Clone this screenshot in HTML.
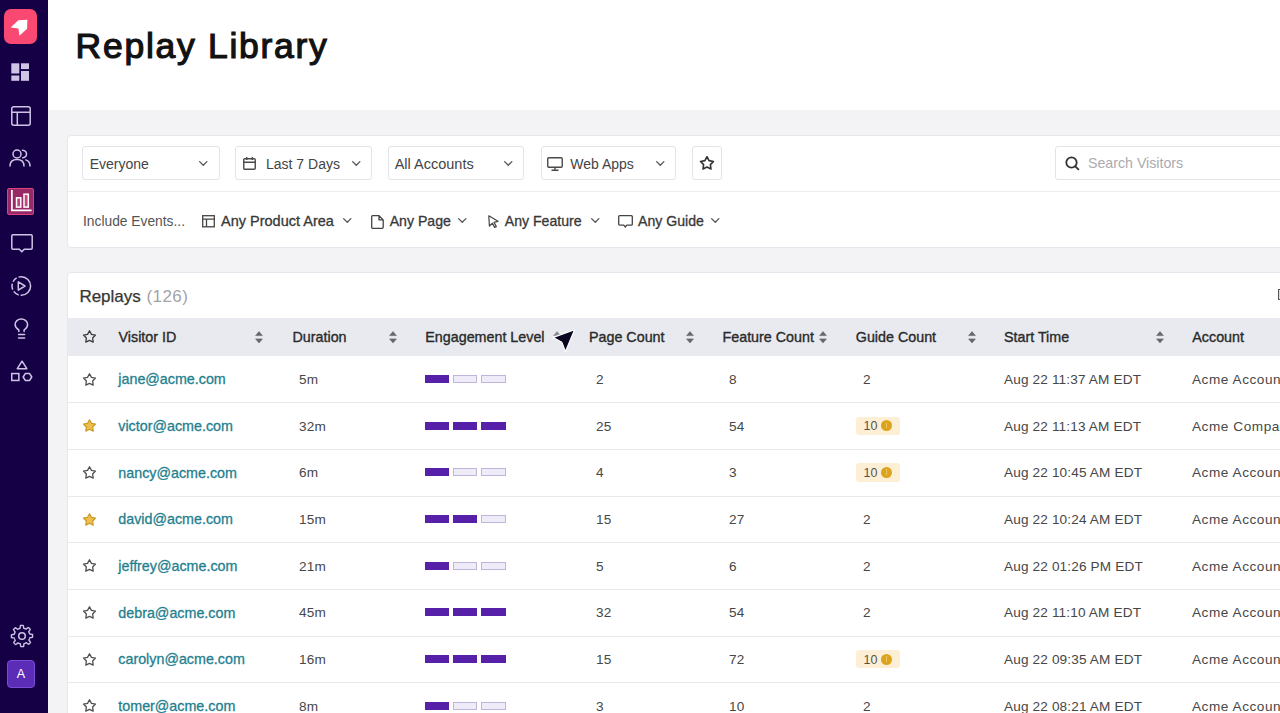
<!DOCTYPE html>
<html><head><meta charset="utf-8">
<style>
*{box-sizing:border-box;margin:0;padding:0}
html,body{width:1280px;height:713px;overflow:hidden}
body{position:relative;background:#F3F3F6;font-family:"Liberation Sans",sans-serif;color:#333}
.abs{position:absolute}
.t{position:absolute;white-space:nowrap;line-height:1}
svg{position:absolute;overflow:visible}
.card{position:absolute;background:#fff;border:1px solid #E6E7EC;border-radius:4px}
.dd{position:absolute;top:146px;height:34px;border:1px solid #E3E4EA;border-radius:3px;background:#fff}
.ddt{position:absolute;top:156.6px;font-size:14px;color:#444;white-space:nowrap;line-height:1}
.f2{position:absolute;top:213.8px;font-size:14.1px;font-weight:400;-webkit-text-stroke:0.3px #383838;color:#383838;white-space:nowrap;line-height:1}
.th{position:absolute;top:329.6px;font-size:14.3px;font-weight:400;-webkit-text-stroke:0.35px #2a2a2a;color:#2a2a2a;white-space:nowrap;line-height:1}
.sep{position:absolute;left:68px;width:1212px;height:1px;background:#E8E9ED}
.c{position:absolute;font-size:13.6px;color:#474747;letter-spacing:0.15px;white-space:nowrap;line-height:1}
.lk{position:absolute;color:#1F7F8F;-webkit-text-stroke:0.3px #1F7F8F;font-size:14.3px;white-space:nowrap;line-height:1}
.bar{position:absolute;width:24.5px;height:8px;background:#5621A8}
.bar.e{background:#EFEBF8;border:1px solid #BFB4DA}
.badge{position:absolute;left:856px;width:43.5px;height:18.3px;background:#FDEFD6;border-radius:3px}
.bt{position:absolute;font-size:12.5px;color:#5a5245;white-space:nowrap;line-height:1}
.dot{position:absolute;width:11px;height:11px;border-radius:50%;background:#DCA41C}
</style></head>
<body>

<div class="abs" style="left:0;top:0;width:47.7px;height:713px;background:#150046"></div>
<div class="abs" style="left:4px;top:9px;width:33px;height:34.5px;border-radius:7px;background:#F94872"></div>
<svg style="left:4px;top:9px" width="34" height="34" viewBox="0 0 34 34"><path d="M6.6 18.4 L14.3 11.2 L23.4 10.8 L23.1 19.7 L15.5 26.7 L14.4 19.4 Z" fill="#fff"/></svg>
<svg style="left:11px;top:63px" width="18" height="18" viewBox="0 0 18 18"><rect x="0.3" y="0.3" width="8" height="10.2" fill="#CDC4E6"/><rect x="0.3" y="12.5" width="8" height="5.3" fill="#CDC4E6"/><rect x="10" y="0.3" width="8" height="5.8" fill="#CDC4E6"/><rect x="10" y="8" width="8" height="9.8" fill="#CDC4E6"/></svg>
<svg style="left:11px;top:106px" width="20" height="20" viewBox="0 0 20 20"><rect x="0.8" y="0.8" width="18.4" height="18.4" rx="2" fill="none" stroke="#CDC4E6" stroke-width="1.5"/><path d="M0.8 6.3 H19.2 M6.3 6.3 V19.2" stroke="#CDC4E6" stroke-width="1.5"/></svg>
<svg style="left:9px;top:149px" width="22" height="18" viewBox="0 0 22 18"><circle cx="8" cy="5" r="4" fill="none" stroke="#CDC4E6" stroke-width="1.5"/><path d="M1 17 C1 12.5 4 10.5 8 10.5 C12 10.5 15 12.5 15 17" fill="none" stroke="#CDC4E6" stroke-width="1.5" stroke-linecap="round"/><path d="M13.5 1.3 C16 1.6 17.5 3.2 17.5 5 C17.5 6.9 16 8.4 13.8 8.8" fill="none" stroke="#CDC4E6" stroke-width="1.5" stroke-linecap="round"/><path d="M16.8 10.9 C19.5 11.7 21 13.6 21 17" fill="none" stroke="#CDC4E6" stroke-width="1.5" stroke-linecap="round"/></svg>
<div class="abs" style="left:7px;top:188px;width:26.8px;height:26.5px;border:1.9px solid #E2407B;border-radius:2px;background:#962966"></div>
<svg style="left:7px;top:188px" width="27" height="27" viewBox="0 0 27 27"><path d="M4.9 2 V22.3 H24.6" fill="none" stroke="#fff" stroke-width="1.7"/><rect x="9.5" y="9.8" width="4.3" height="9.3" fill="#C0487E" stroke="#fff" stroke-width="1.5"/><rect x="17" y="6.2" width="4.3" height="12.9" fill="#C0487E" stroke="#fff" stroke-width="1.5"/></svg>
<svg style="left:10.5px;top:234px" width="22" height="20" viewBox="0 0 22 20"><path d="M2 0.8 H20 A1.2 1.2 0 0 1 21.2 2 V14 A1.2 1.2 0 0 1 20 15.2 H13.2 L10.8 17.8 L8.4 15.2 H2 A1.2 1.2 0 0 1 0.8 14 V2 A1.2 1.2 0 0 1 2 0.8 Z" fill="none" stroke="#CDC4E6" stroke-width="1.5" stroke-linejoin="round"/></svg>
<svg style="left:10px;top:275px" width="22" height="22" viewBox="0 0 22 22"><circle cx="11.3" cy="11" r="9.3" fill="none" stroke="#CDC4E6" stroke-width="1.5" stroke-dasharray="15.2 2 6.1 2 6.1 2 5.3 2 17.65"/><path d="M8.3 6.8 L15 11 L8.3 15.2 Z" fill="none" stroke="#CDC4E6" stroke-width="1.5" stroke-linejoin="round"/></svg>
<svg style="left:13.5px;top:317.5px" width="15" height="22" viewBox="0 0 15 22"><path d="M4.8 13.6 V12 C2.6 10.6 1.1 8.9 1.1 6.6 C1.1 3.3 3.9 1 7.3 1 C10.7 1 13.6 3.3 13.6 6.6 C13.6 8.9 12.2 10.6 10.1 12 V13.6" fill="none" stroke="#CDC4E6" stroke-width="1.5" stroke-linecap="round"/><path d="M4.6 16.6 H10.6 M4.6 20.1 H10.6" stroke="#CDC4E6" stroke-width="1.5" stroke-linecap="round"/></svg>
<svg style="left:10.5px;top:360px" width="22" height="22" viewBox="0 0 22 22"><path d="M11.05 1.2 L15.8 8.65 H6.3 Z" fill="none" stroke="#CDC4E6" stroke-width="1.5" stroke-linejoin="round"/><rect x="0.75" y="13.55" width="7.1" height="6.9" fill="none" stroke="#CDC4E6" stroke-width="1.5"/><path d="M12.15 17 L14.3 13.55 H18.6 L20.75 17 L18.6 20.45 H14.3 Z" fill="none" stroke="#CDC4E6" stroke-width="1.5" stroke-linejoin="round"/></svg>
<svg style="left:11px;top:625px" width="22" height="22" viewBox="0 0 22 22"><path d="M21.48 9.42 L21.54 9.83 L21.57 10.24 L21.59 10.66 L21.60 11.08 L21.59 11.49 L21.56 11.91 L21.29 12.29 L20.13 12.51 L18.96 12.64 L18.67 12.90 L18.59 13.20 L18.50 13.49 L18.39 13.79 L18.28 14.07 L18.15 14.36 L18.01 14.64 L17.87 14.91 L18.09 15.41 L18.84 16.32 L19.53 17.29 L19.28 17.62 L19.01 17.94 L18.73 18.25 L18.44 18.55 L18.14 18.83 L17.83 19.11 L17.37 19.19 L16.38 18.52 L15.47 17.79 L15.08 17.76 L14.81 17.92 L14.54 18.06 L14.26 18.20 L13.97 18.32 L13.68 18.43 L13.39 18.53 L13.09 18.62 L12.89 19.13 L12.78 20.31 L12.58 21.48 L12.17 21.54 L11.76 21.57 L11.34 21.59 L10.92 21.60 L10.51 21.59 L10.09 21.56 L9.71 21.29 L9.49 20.13 L9.36 18.96 L9.10 18.67 L8.80 18.59 L8.51 18.50 L8.21 18.39 L7.93 18.28 L7.64 18.15 L7.36 18.01 L7.09 17.87 L6.59 18.09 L5.68 18.84 L4.71 19.53 L4.38 19.28 L4.06 19.01 L3.75 18.73 L3.45 18.44 L3.17 18.14 L2.89 17.83 L2.81 17.37 L3.48 16.38 L4.21 15.47 L4.24 15.08 L4.08 14.81 L3.94 14.54 L3.80 14.26 L3.68 13.97 L3.57 13.68 L3.47 13.39 L3.38 13.09 L2.87 12.89 L1.69 12.78 L0.52 12.58 L0.46 12.17 L0.43 11.76 L0.41 11.34 L0.40 10.92 L0.41 10.51 L0.44 10.09 L0.71 9.71 L1.87 9.49 L3.04 9.36 L3.33 9.10 L3.41 8.80 L3.50 8.51 L3.61 8.21 L3.72 7.93 L3.85 7.64 L3.99 7.36 L4.13 7.09 L3.91 6.59 L3.16 5.68 L2.47 4.71 L2.72 4.38 L2.99 4.06 L3.27 3.75 L3.56 3.45 L3.86 3.17 L4.17 2.89 L4.63 2.81 L5.62 3.48 L6.53 4.21 L6.92 4.24 L7.19 4.08 L7.46 3.94 L7.74 3.80 L8.03 3.68 L8.32 3.57 L8.61 3.47 L8.91 3.38 L9.11 2.87 L9.22 1.69 L9.42 0.52 L9.83 0.46 L10.24 0.43 L10.66 0.41 L11.08 0.40 L11.49 0.41 L11.91 0.44 L12.29 0.71 L12.51 1.87 L12.64 3.04 L12.90 3.33 L13.20 3.41 L13.49 3.50 L13.79 3.61 L14.07 3.72 L14.36 3.85 L14.64 3.99 L14.91 4.13 L15.41 3.91 L16.32 3.16 L17.29 2.47 L17.62 2.72 L17.94 2.99 L18.25 3.27 L18.55 3.56 L18.83 3.86 L19.11 4.17 L19.19 4.63 L18.52 5.62 L17.79 6.53 L17.76 6.92 L17.92 7.19 L18.06 7.46 L18.20 7.74 L18.32 8.03 L18.43 8.32 L18.53 8.61 L18.62 8.91 L19.13 9.11 L20.31 9.22 L21.48 9.42 Z" fill="none" stroke="#CDC4E6" stroke-width="1.4" stroke-linejoin="round"/><circle cx="11" cy="11" r="3.3" fill="none" stroke="#CDC4E6" stroke-width="1.5"/></svg>
<div class="abs" style="left:7px;top:660px;width:28px;height:28px;border-radius:4px;background:#5B2CB6;border:1px solid #7A4BD4"></div>
<div class="t" style="left:7px;top:668px;width:28px;text-align:center;font-size:12.5px;color:#fff">A</div>
<div class="abs" style="left:47.7px;top:0;width:1233px;height:110px;background:#fff"></div>
<div class="t" style="left:76px;top:28.6px;left:75.6px;font-size:35.5px;font-weight:400;-webkit-text-stroke:1.2px #121212;letter-spacing:1.72px;color:#121212">Replay Library</div>
<div class="card" style="left:67px;top:135px;width:1240px;height:113px"></div>
<div class="abs" style="left:68px;top:190.5px;width:1212px;height:1px;background:#ECEDF1"></div>
<div class="dd" style="left:82px;width:137.5px"></div>
<div class="ddt" style="left:89.7px">Everyone</div>
<svg style="left:198.9px;top:161.2px" width="8.5" height="5" viewBox="0 0 8.5 5"><path d="M0.6 0.6 L4.25 4.2 L7.9 0.6" fill="none" stroke="#555" stroke-width="1.3" stroke-linecap="round" stroke-linejoin="round"/></svg>
<div class="dd" style="left:235px;width:136.5px"></div>
<svg style="left:243px;top:157px" width="13" height="13" viewBox="0 0 13 13"><rect x="0.75" y="1.8" width="11.5" height="10.5" rx="1" fill="none" stroke="#4a4a4a" stroke-width="1.4"/><path d="M0.75 5.3 H12.25 M3.7 0 V3 M9.3 0 V3" stroke="#4a4a4a" stroke-width="1.4"/></svg>
<div class="ddt" style="left:266px">Last 7 Days</div>
<svg style="left:351.5px;top:161.2px" width="8.5" height="5" viewBox="0 0 8.5 5"><path d="M0.6 0.6 L4.25 4.2 L7.9 0.6" fill="none" stroke="#555" stroke-width="1.3" stroke-linecap="round" stroke-linejoin="round"/></svg>
<div class="dd" style="left:388px;width:135.5px"></div>
<div class="ddt" style="left:394.7px;font-size:14.5px">All Accounts</div>
<svg style="left:503.5px;top:161.2px" width="8.5" height="5" viewBox="0 0 8.5 5"><path d="M0.6 0.6 L4.25 4.2 L7.9 0.6" fill="none" stroke="#555" stroke-width="1.3" stroke-linecap="round" stroke-linejoin="round"/></svg>
<div class="dd" style="left:540.5px;width:135.5px"></div>
<svg style="left:547px;top:156.5px" width="16" height="14" viewBox="0 0 16 14"><rect x="0.75" y="0.75" width="14.5" height="9.5" rx="1.2" fill="none" stroke="#4a4a4a" stroke-width="1.4"/><path d="M8 10.3 V13 M4.5 13.2 H11.5" stroke="#4a4a4a" stroke-width="1.4"/></svg>
<div class="ddt" style="left:570.3px">Web Apps</div>
<svg style="left:656.2px;top:161.2px" width="8.5" height="5" viewBox="0 0 8.5 5"><path d="M0.6 0.6 L4.25 4.2 L7.9 0.6" fill="none" stroke="#555" stroke-width="1.3" stroke-linecap="round" stroke-linejoin="round"/></svg>
<div class="dd" style="left:692px;width:29.5px"></div>
<svg style="left:700px;top:155.6px" width="14" height="14" viewBox="0 0 13 13"><path d="M6.50 0.70 L8.44 4.33 L12.49 5.05 L9.64 8.02 L10.20 12.10 L6.50 10.30 L2.80 12.10 L3.36 8.02 L0.51 5.05 L4.56 4.33 Z" fill="none" stroke="#333" stroke-width="1.5" stroke-linejoin="round"/></svg>
<div class="dd" style="left:1055px;width:260px"></div>
<svg style="left:1064.5px;top:155.5px" width="15" height="15" viewBox="0 0 15 15"><circle cx="6.5" cy="6.5" r="5.2" fill="none" stroke="#333" stroke-width="1.8"/><path d="M10.3 10.3 L13.4 13.4" stroke="#333" stroke-width="1.8" stroke-linecap="round"/></svg>
<div class="ddt" style="left:1088px;top:155.8px;color:#ABABB0;font-size:14.2px">Search Visitors</div>
<div class="t" style="left:83px;top:214.5px;font-size:13.8px;color:#555">Include Events...</div>
<svg style="left:202px;top:214.5px" width="13" height="12.5" viewBox="0 0 13 12.5"><rect x="0.7" y="0.7" width="11.6" height="11.1" fill="none" stroke="#444" stroke-width="1.3"/><path d="M0.7 4.2 H12.3 M4.5 4.2 V11.8" stroke="#444" stroke-width="1.3"/></svg>
<div class="f2" style="left:221px;font-size:14.5px;top:213.5px">Any Product Area</div>
<svg style="left:343.2px;top:218.4px" width="8.5" height="5" viewBox="0 0 8.5 5"><path d="M0.6 0.6 L4.25 4.2 L7.9 0.6" fill="none" stroke="#555" stroke-width="1.3" stroke-linecap="round" stroke-linejoin="round"/></svg>
<svg style="left:371px;top:214.5px" width="13" height="14" viewBox="0 0 13 14"><path d="M1.6 0.7 H8 L12.2 4.9 V12.2 A1.1 1.1 0 0 1 11.1 13.3 H1.6 A1.1 1.1 0 0 1 0.7 12.2 V1.8 A1.1 1.1 0 0 1 1.6 0.7 Z M8 0.7 V4.9 H12.2" fill="none" stroke="#444" stroke-width="1.3" stroke-linejoin="round"/></svg>
<div class="f2" style="left:389.7px">Any Page</div>
<svg style="left:458.2px;top:218.4px" width="8.5" height="5" viewBox="0 0 8.5 5"><path d="M0.6 0.6 L4.25 4.2 L7.9 0.6" fill="none" stroke="#555" stroke-width="1.3" stroke-linecap="round" stroke-linejoin="round"/></svg>
<svg style="left:488px;top:214.5px" width="11" height="13" viewBox="0 0 11 13"><path d="M0.8 0.8 L10 6.3 L6 7.3 L8.3 11.6 L6.6 12.4 L4.4 8.2 L1.4 11 Z" fill="none" stroke="#444" stroke-width="1.2" stroke-linejoin="round"/></svg>
<div class="f2" style="left:504.8px">Any Feature</div>
<svg style="left:590.5px;top:218.4px" width="8.5" height="5" viewBox="0 0 8.5 5"><path d="M0.6 0.6 L4.25 4.2 L7.9 0.6" fill="none" stroke="#555" stroke-width="1.3" stroke-linecap="round" stroke-linejoin="round"/></svg>
<svg style="left:617.5px;top:214.5px" width="15" height="13" viewBox="0 0 15 13"><path d="M1.6 0.7 H13.4 A0.9 0.9 0 0 1 14.3 1.6 V9.2 A0.9 0.9 0 0 1 13.4 10.1 H8.8 L7.3 12 L5.8 10.1 H1.6 A0.9 0.9 0 0 1 0.7 9.2 V1.6 A0.9 0.9 0 0 1 1.6 0.7 Z" fill="none" stroke="#444" stroke-width="1.3" stroke-linejoin="round"/></svg>
<div class="f2" style="left:638px">Any Guide</div>
<svg style="left:711px;top:218.4px" width="8.5" height="5" viewBox="0 0 8.5 5"><path d="M0.6 0.6 L4.25 4.2 L7.9 0.6" fill="none" stroke="#555" stroke-width="1.3" stroke-linecap="round" stroke-linejoin="round"/></svg>
<div class="card" style="left:67px;top:272px;width:1240px;height:460px"></div>
<div class="t" style="left:79.4px;top:287.5px;font-size:17px;color:#363636;-webkit-text-stroke:0.25px #363636">Replays <span style="color:#A3A3A8;-webkit-text-stroke:0;letter-spacing:0.4px;margin-left:1px">(126)</span></div>
<div class="abs" style="left:1278px;top:289px;width:4px;height:11px;border:1.5px solid #555;border-right:none;background:#ddd"></div>
<div class="abs" style="left:68px;top:318px;width:1212px;height:38px;background:#E8EAEF"></div>
<svg style="left:82.9px;top:330.3px" width="13" height="13" viewBox="0 0 13 13"><path d="M6.50 0.70 L8.44 4.33 L12.49 5.05 L9.64 8.02 L10.20 12.10 L6.50 10.30 L2.80 12.10 L3.36 8.02 L0.51 5.05 L4.56 4.33 Z" fill="none" stroke="#3a3a3a" stroke-width="1.3" stroke-linejoin="round"/></svg>
<div class="th" style="left:118.6px">Visitor ID</div>
<div class="th" style="left:292.5px">Duration</div>
<div class="th" style="left:425.3px">Engagement Level</div>
<div class="th" style="left:589px">Page Count</div>
<div class="th" style="left:722.5px">Feature Count</div>
<div class="th" style="left:855.8px">Guide Count</div>
<div class="th" style="left:1004px">Start Time</div>
<div class="th" style="left:1192.3px">Account</div>
<svg style="left:255.2px;top:330.5px" width="8" height="12.5" viewBox="0 0 8 12.5"><path d="M4 0.6 L7.4 4.6 H0.6 Z" fill="#66666E" stroke="#66666E" stroke-width="0.6" stroke-linejoin="round"/><path d="M4 11.9 L7.4 7.9 H0.6 Z" fill="#66666E" stroke="#66666E" stroke-width="0.6" stroke-linejoin="round"/></svg>
<svg style="left:388.5px;top:330.5px" width="8" height="12.5" viewBox="0 0 8 12.5"><path d="M4 0.6 L7.4 4.6 H0.6 Z" fill="#66666E" stroke="#66666E" stroke-width="0.6" stroke-linejoin="round"/><path d="M4 11.9 L7.4 7.9 H0.6 Z" fill="#66666E" stroke="#66666E" stroke-width="0.6" stroke-linejoin="round"/></svg>
<svg style="left:686.1px;top:330.5px" width="8" height="12.5" viewBox="0 0 8 12.5"><path d="M4 0.6 L7.4 4.6 H0.6 Z" fill="#66666E" stroke="#66666E" stroke-width="0.6" stroke-linejoin="round"/><path d="M4 11.9 L7.4 7.9 H0.6 Z" fill="#66666E" stroke="#66666E" stroke-width="0.6" stroke-linejoin="round"/></svg>
<svg style="left:819.3px;top:330.5px" width="8" height="12.5" viewBox="0 0 8 12.5"><path d="M4 0.6 L7.4 4.6 H0.6 Z" fill="#66666E" stroke="#66666E" stroke-width="0.6" stroke-linejoin="round"/><path d="M4 11.9 L7.4 7.9 H0.6 Z" fill="#66666E" stroke="#66666E" stroke-width="0.6" stroke-linejoin="round"/></svg>
<svg style="left:968.1px;top:330.5px" width="8" height="12.5" viewBox="0 0 8 12.5"><path d="M4 0.6 L7.4 4.6 H0.6 Z" fill="#66666E" stroke="#66666E" stroke-width="0.6" stroke-linejoin="round"/><path d="M4 11.9 L7.4 7.9 H0.6 Z" fill="#66666E" stroke="#66666E" stroke-width="0.6" stroke-linejoin="round"/></svg>
<svg style="left:1155.7px;top:330.5px" width="8" height="12.5" viewBox="0 0 8 12.5"><path d="M4 0.6 L7.4 4.6 H0.6 Z" fill="#66666E" stroke="#66666E" stroke-width="0.6" stroke-linejoin="round"/><path d="M4 11.9 L7.4 7.9 H0.6 Z" fill="#66666E" stroke="#66666E" stroke-width="0.6" stroke-linejoin="round"/></svg>
<svg style="left:553px;top:330.5px" width="8" height="6" viewBox="0 0 8 6"><path d="M4 0.6 L7.4 4.6 H0.6 Z" fill="#8a8a92" stroke="#8a8a92" stroke-width="0.6" stroke-linejoin="round"/></svg>
<svg style="left:83.0px;top:372.5335px" width="13" height="13" viewBox="0 0 13 13"><path d="M6.50 0.70 L8.44 4.33 L12.49 5.05 L9.64 8.02 L10.20 12.10 L6.50 10.30 L2.80 12.10 L3.36 8.02 L0.51 5.05 L4.56 4.33 Z" fill="none" stroke="#4f4f4f" stroke-width="1.3" stroke-linejoin="round"/></svg>
<div class="lk" style="left:118.3px;top:372.43px">jane@acme.com</div>
<div class="c" style="left:299px;top:372.93px">5m</div>
<div class="bar" style="left:424.7px;top:374.83px"></div>
<div class="bar e" style="left:452.9px;top:374.83px"></div>
<div class="bar e" style="left:481.1px;top:374.83px"></div>
<div class="c" style="left:596px;top:372.93px">2</div>
<div class="c" style="left:729px;top:372.93px">8</div>
<div class="c" style="left:863px;top:372.93px">2</div>
<div class="c" style="left:1004px;top:372.93px">Aug 22 11:37 AM EDT</div>
<div class="c" style="left:1192px;top:372.93px;letter-spacing:0.55px">Acme Account</div>
<div class="sep" style="top:402.17px"></div>
<svg style="left:83.0px;top:419.20050000000003px" width="13" height="13" viewBox="0 0 13 13"><path d="M6.50 0.70 L8.44 4.33 L12.49 5.05 L9.64 8.02 L10.20 12.10 L6.50 10.30 L2.80 12.10 L3.36 8.02 L0.51 5.05 L4.56 4.33 Z" fill="#EDBF4F" stroke="#C99A22" stroke-width="1.2" stroke-linejoin="round"/></svg>
<div class="lk" style="left:118.3px;top:419.10px">victor@acme.com</div>
<div class="c" style="left:299px;top:419.60px">32m</div>
<div class="bar" style="left:424.7px;top:421.50px"></div>
<div class="bar" style="left:452.9px;top:421.50px"></div>
<div class="bar" style="left:481.1px;top:421.50px"></div>
<div class="c" style="left:596px;top:419.60px">25</div>
<div class="c" style="left:729px;top:419.60px">54</div>
<div class="badge" style="top:416.60px"></div>
<div class="bt" style="left:863.6px;top:420.40px">10</div>
<div class="dot" style="left:880.9px;top:420.40px"></div>
<div class="abs" style="left:885.9px;top:422.70px;width:1px;height:5.5px;background:#EBC468"></div>
<div class="c" style="left:1004px;top:419.60px">Aug 22 11:13 AM EDT</div>
<div class="c" style="left:1192px;top:419.60px;letter-spacing:0.55px">Acme Company</div>
<div class="sep" style="top:448.83px"></div>
<svg style="left:83.0px;top:465.8675px" width="13" height="13" viewBox="0 0 13 13"><path d="M6.50 0.70 L8.44 4.33 L12.49 5.05 L9.64 8.02 L10.20 12.10 L6.50 10.30 L2.80 12.10 L3.36 8.02 L0.51 5.05 L4.56 4.33 Z" fill="none" stroke="#4f4f4f" stroke-width="1.3" stroke-linejoin="round"/></svg>
<div class="lk" style="left:118.3px;top:465.77px">nancy@acme.com</div>
<div class="c" style="left:299px;top:466.27px">6m</div>
<div class="bar" style="left:424.7px;top:468.17px"></div>
<div class="bar e" style="left:452.9px;top:468.17px"></div>
<div class="bar e" style="left:481.1px;top:468.17px"></div>
<div class="c" style="left:596px;top:466.27px">4</div>
<div class="c" style="left:729px;top:466.27px">3</div>
<div class="badge" style="top:463.27px"></div>
<div class="bt" style="left:863.6px;top:467.07px">10</div>
<div class="dot" style="left:880.9px;top:467.07px"></div>
<div class="abs" style="left:885.9px;top:469.37px;width:1px;height:5.5px;background:#EBC468"></div>
<div class="c" style="left:1004px;top:466.27px">Aug 22 10:45 AM EDT</div>
<div class="c" style="left:1192px;top:466.27px;letter-spacing:0.55px">Acme Account</div>
<div class="sep" style="top:495.50px"></div>
<svg style="left:83.0px;top:512.5345px" width="13" height="13" viewBox="0 0 13 13"><path d="M6.50 0.70 L8.44 4.33 L12.49 5.05 L9.64 8.02 L10.20 12.10 L6.50 10.30 L2.80 12.10 L3.36 8.02 L0.51 5.05 L4.56 4.33 Z" fill="#EDBF4F" stroke="#C99A22" stroke-width="1.2" stroke-linejoin="round"/></svg>
<div class="lk" style="left:118.3px;top:512.43px">david@acme.com</div>
<div class="c" style="left:299px;top:512.93px">15m</div>
<div class="bar" style="left:424.7px;top:514.83px"></div>
<div class="bar" style="left:452.9px;top:514.83px"></div>
<div class="bar e" style="left:481.1px;top:514.83px"></div>
<div class="c" style="left:596px;top:512.93px">15</div>
<div class="c" style="left:729px;top:512.93px">27</div>
<div class="c" style="left:863px;top:512.93px">2</div>
<div class="c" style="left:1004px;top:512.93px">Aug 22 10:24 AM EDT</div>
<div class="c" style="left:1192px;top:512.93px;letter-spacing:0.55px">Acme Account</div>
<div class="sep" style="top:542.17px"></div>
<svg style="left:83.0px;top:559.2015px" width="13" height="13" viewBox="0 0 13 13"><path d="M6.50 0.70 L8.44 4.33 L12.49 5.05 L9.64 8.02 L10.20 12.10 L6.50 10.30 L2.80 12.10 L3.36 8.02 L0.51 5.05 L4.56 4.33 Z" fill="none" stroke="#4f4f4f" stroke-width="1.3" stroke-linejoin="round"/></svg>
<div class="lk" style="left:118.3px;top:559.10px">jeffrey@acme.com</div>
<div class="c" style="left:299px;top:559.60px">21m</div>
<div class="bar" style="left:424.7px;top:561.50px"></div>
<div class="bar e" style="left:452.9px;top:561.50px"></div>
<div class="bar e" style="left:481.1px;top:561.50px"></div>
<div class="c" style="left:596px;top:559.60px">5</div>
<div class="c" style="left:729px;top:559.60px">6</div>
<div class="c" style="left:863px;top:559.60px">2</div>
<div class="c" style="left:1004px;top:559.60px">Aug 22 01:26 PM EDT</div>
<div class="c" style="left:1192px;top:559.60px;letter-spacing:0.55px">Acme Account</div>
<div class="sep" style="top:588.84px"></div>
<svg style="left:83.0px;top:605.8685px" width="13" height="13" viewBox="0 0 13 13"><path d="M6.50 0.70 L8.44 4.33 L12.49 5.05 L9.64 8.02 L10.20 12.10 L6.50 10.30 L2.80 12.10 L3.36 8.02 L0.51 5.05 L4.56 4.33 Z" fill="none" stroke="#4f4f4f" stroke-width="1.3" stroke-linejoin="round"/></svg>
<div class="lk" style="left:118.3px;top:605.77px">debra@acme.com</div>
<div class="c" style="left:299px;top:606.27px">45m</div>
<div class="bar" style="left:424.7px;top:608.17px"></div>
<div class="bar" style="left:452.9px;top:608.17px"></div>
<div class="bar" style="left:481.1px;top:608.17px"></div>
<div class="c" style="left:596px;top:606.27px">32</div>
<div class="c" style="left:729px;top:606.27px">54</div>
<div class="c" style="left:863px;top:606.27px">2</div>
<div class="c" style="left:1004px;top:606.27px">Aug 22 11:10 AM EDT</div>
<div class="c" style="left:1192px;top:606.27px;letter-spacing:0.55px">Acme Account</div>
<div class="sep" style="top:635.50px"></div>
<svg style="left:83.0px;top:652.5355px" width="13" height="13" viewBox="0 0 13 13"><path d="M6.50 0.70 L8.44 4.33 L12.49 5.05 L9.64 8.02 L10.20 12.10 L6.50 10.30 L2.80 12.10 L3.36 8.02 L0.51 5.05 L4.56 4.33 Z" fill="none" stroke="#4f4f4f" stroke-width="1.3" stroke-linejoin="round"/></svg>
<div class="lk" style="left:118.3px;top:652.44px">carolyn@acme.com</div>
<div class="c" style="left:299px;top:652.94px">16m</div>
<div class="bar" style="left:424.7px;top:654.84px"></div>
<div class="bar" style="left:452.9px;top:654.84px"></div>
<div class="bar" style="left:481.1px;top:654.84px"></div>
<div class="c" style="left:596px;top:652.94px">15</div>
<div class="c" style="left:729px;top:652.94px">72</div>
<div class="badge" style="top:649.94px"></div>
<div class="bt" style="left:863.6px;top:653.74px">10</div>
<div class="dot" style="left:880.9px;top:653.74px"></div>
<div class="abs" style="left:885.9px;top:656.04px;width:1px;height:5.5px;background:#EBC468"></div>
<div class="c" style="left:1004px;top:652.94px">Aug 22 09:35 AM EDT</div>
<div class="c" style="left:1192px;top:652.94px;letter-spacing:0.55px">Acme Account</div>
<div class="sep" style="top:682.17px"></div>
<svg style="left:83.0px;top:699.2025px" width="13" height="13" viewBox="0 0 13 13"><path d="M6.50 0.70 L8.44 4.33 L12.49 5.05 L9.64 8.02 L10.20 12.10 L6.50 10.30 L2.80 12.10 L3.36 8.02 L0.51 5.05 L4.56 4.33 Z" fill="none" stroke="#4f4f4f" stroke-width="1.3" stroke-linejoin="round"/></svg>
<div class="lk" style="left:118.3px;top:699.10px">tomer@acme.com</div>
<div class="c" style="left:299px;top:699.60px">8m</div>
<div class="bar" style="left:424.7px;top:701.50px"></div>
<div class="bar e" style="left:452.9px;top:701.50px"></div>
<div class="bar e" style="left:481.1px;top:701.50px"></div>
<div class="c" style="left:596px;top:699.60px">3</div>
<div class="c" style="left:729px;top:699.60px">10</div>
<div class="c" style="left:863px;top:699.60px">2</div>
<div class="c" style="left:1004px;top:699.60px">Aug 22 08:21 AM EDT</div>
<div class="c" style="left:1192px;top:699.60px;letter-spacing:0.55px">Acme Account</div>
<svg style="left:550px;top:327px" width="28" height="28" viewBox="0 0 28 28"><path d="M3.3 10.4 L24.6 2.8 L15.5 24.6 L11.8 15.2 Z" fill="#0a0520" stroke="#fff" stroke-width="1.2" stroke-linejoin="round"/></svg>
</body></html>
